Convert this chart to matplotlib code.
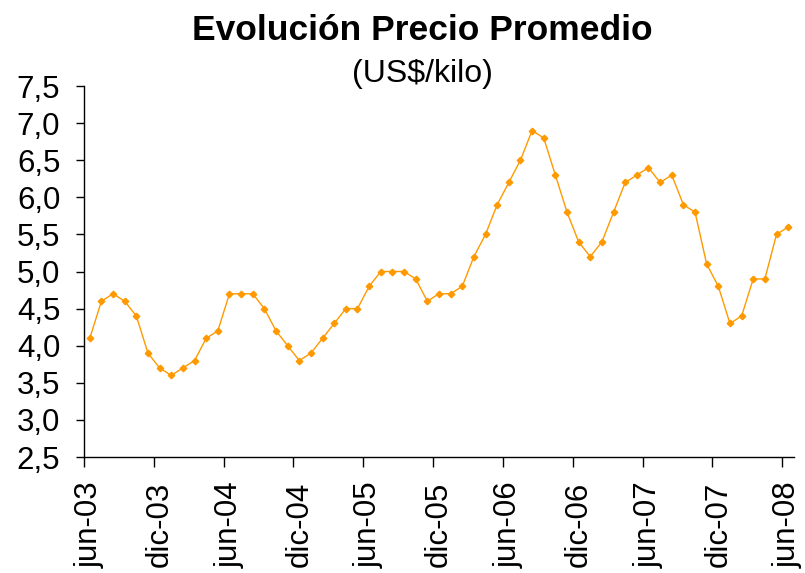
import matplotlib
matplotlib.use("Agg")
import matplotlib.pyplot as plt
import numpy as np

# === Data (monthly, jun-03 .. jun-08) ===
precios = [4.1, 4.6, 4.7, 4.6, 4.4, 3.9, 3.7, 3.6, 3.7, 3.8, 4.1, 4.2,
           4.7, 4.7, 4.7, 4.5, 4.2, 4.0, 3.8, 3.9, 4.1, 4.3, 4.5, 4.5,
           4.8, 5.0, 5.0, 5.0, 4.9, 4.6, 4.7, 4.7, 4.8, 5.2, 5.5, 5.9,
           6.2, 6.5, 6.9, 6.8, 6.3, 5.8, 5.4, 5.2, 5.4, 5.8, 6.2, 6.3,
           6.4, 6.2, 6.3, 5.9, 5.8, 5.1, 4.8, 4.3, 4.4, 4.9, 4.9, 5.5, 5.6]
tick_labels = ["jun-03", "dic-03", "jun-04", "dic-04", "jun-05", "dic-05",
               "jun-06", "dic-06", "jun-07", "dic-07", "jun-08"]
y_ticks = [2.5, 3.0, 3.5, 4.0, 4.5, 5.0, 5.5, 6.0, 6.5, 7.0, 7.5]

plt.rcParams['font.family'] = ['Liberation Sans', 'DejaVu Sans']

fig = plt.figure(figsize=(8.05, 5.73), dpi=100)
ax = fig.add_axes([0.1043, 0.2024, 0.882, 0.6475])

x = np.arange(len(precios))
ax.plot(x, precios, color='#FF9900', lw=1.0, marker='D', ms=3.3, mec='#FF9900', mfc='#FF9900')

ax.set_xlim(-0.5, len(precios) - 0.5)
ax.set_ylim(2.5, 7.5)
ax.set_yticks(y_ticks)
ax.set_yticklabels([f"{v:.1f}".replace('.', ',') for v in y_ticks], fontsize=22.5)

# labels sit on the category, tick marks on the boundary before it (Excel style)
cats = np.arange(0, len(precios), 6)
ax.set_xticks(cats)
ax.set_xticklabels(tick_labels, rotation=90, fontsize=22.5)
ax.set_xticks(cats - 0.5, minor=True)
ax.tick_params(axis='x', which='major', length=0, pad=17.5)
ax.tick_params(axis='x', which='minor', length=7, width=1)
ax.tick_params(axis='y', length=6, width=1, pad=11)

for s in ['top', 'right']:
    ax.spines[s].set_visible(False)
for s in ['left', 'bottom']:
    ax.spines[s].set_linewidth(1)

fig.text(0.525, 0.947, "Evolución Precio Promedio", ha='center', va='center',
         fontsize=25.5, fontweight='bold')
fig.text(0.525, 0.871, "(US$/kilo)", ha='center', va='center', fontsize=23)

fig.savefig("out.png", dpi=100)
